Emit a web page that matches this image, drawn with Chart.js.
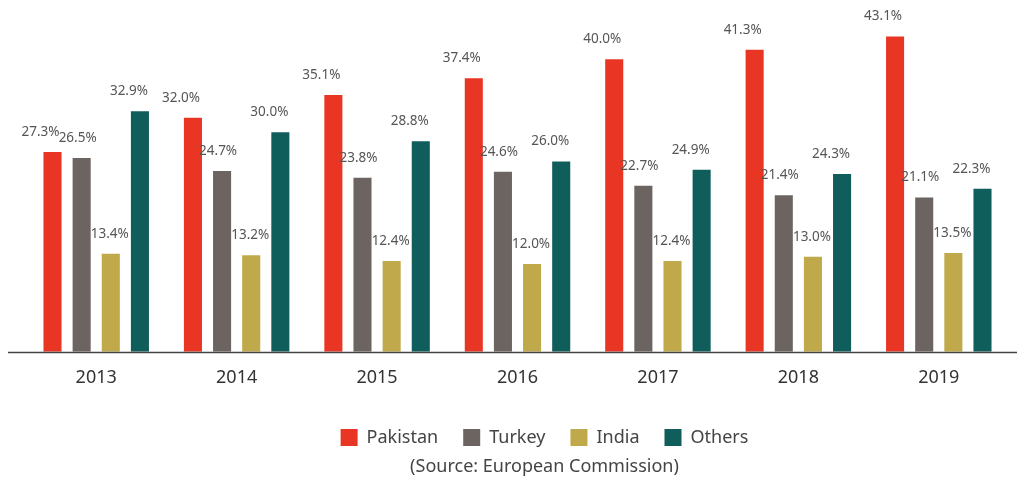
<!DOCTYPE html>
<html>
<head>
<meta charset="utf-8">
<script src="https://cdn.jsdelivr.net/npm/chart.js@4"></script>
<style>
  html, body { margin: 0; padding: 0; background: #fff; }
  #wrap { width: 1017px; height: 480px; }
</style>
</head>
<body>
<div id="wrap"><canvas id="shareChart"></canvas></div>
<script>
const years = ['2013', '2014', '2015', '2016', '2017', '2018', '2019'];
const pakistan = [27.3, 32.0, 35.1, 37.4, 40.0, 41.3, 43.1];
const turkey = [26.5, 24.7, 23.8, 24.6, 22.7, 21.4, 21.1];
const india = [13.4, 13.2, 12.4, 12.0, 12.4, 13.0, 13.5];
const others = [32.9, 30.0, 28.8, 26.0, 24.9, 24.3, 22.3];
const seriesNames = ['Pakistan', 'Turkey', 'India', 'Others'];
const sourceNote = '(Source: European Commission)';

const colors = ['#E83524', '#6B6461', '#BFA94B', '#0F5E5C'];
// labels in the original sit a little left of their bars
const labelShift = [-12, -4, -1, -11];
// legend and source line are centred a bit right of the bars
const footerShift = 27;

// value labels above each bar
const valueLabels = {
    id: 'valueLabels',
    afterDatasetsDraw(chart) {
        const ctx = chart.ctx;
        ctx.save();
        ctx.font = '13.5px "Noto Sans"';
        ctx.fillStyle = '#555';
        ctx.textAlign = 'center';
        ctx.textBaseline = 'middle';
        chart.data.datasets.forEach((ds, i) => {
            chart.getDatasetMeta(i).data.forEach((bar, j) => {
                ctx.fillText(ds.data[j].toFixed(1) + '%', bar.x + labelShift[i], bar.y - 20);
            });
        });
        ctx.restore();
    }
};

// baseline runs the full width, past the bar area
const baseLine = {
    id: 'baseLine',
    afterDatasetsDraw(chart) {
        const ctx = chart.ctx;
        const y = Math.round(chart.scales.y.getPixelForValue(0)) + 0.5;
        ctx.save();
        ctx.strokeStyle = '#444';
        ctx.lineWidth = 1.5;
        ctx.beginPath();
        ctx.moveTo(8, y);
        ctx.lineTo(1017, y);
        ctx.stroke();
        ctx.restore();
    }
};

// nudge legend + subtitle boxes sideways after layout
const footerNudge = {
    id: 'footerNudge',
    afterLayout(chart) {
        chart.boxes.forEach(box => {
            const isSub = box.options && box.options.text === sourceNote;
            if (box === chart.legend || isSub) {
                box.left += footerShift;
                box.right += footerShift;
            }
        });
    }
};

const datasets = [pakistan, turkey, india, others].map((vals, i) => ({
    label: seriesNames[i],
    data: vals,
    backgroundColor: colors[i],
    borderWidth: 0,
    barPercentage: 0.62,
    categoryPercentage: 0.83
}));

new Chart(document.getElementById('shareChart'), {
    type: 'bar',
    data: { labels: years, datasets: datasets },
    options: {
        responsive: true,
        maintainAspectRatio: false,
        animation: false,
        layout: { padding: { left: 26, right: 8, top: 8, bottom: 2 } },
        plugins: {
            legend: {
                position: 'bottom',
                labels: {
                    boxWidth: 17,
                    boxHeight: 17,
                    padding: 25,
                    color: '#444',
                    font: { family: '"Noto Sans"', size: 18 }
                }
            },
            subtitle: {
                display: true,
                position: 'bottom',
                text: sourceNote,
                color: '#444',
                font: { family: '"Noto Sans"', size: 18, weight: 'normal' },
                padding: { top: 0, bottom: 0 }
            },
            tooltip: { enabled: false }
        },
        scales: {
            x: {
                grid: { display: false, drawTicks: false },
                border: { display: false },
                ticks: {
                    color: '#333',
                    padding: 15,
                    font: { family: '"Noto Sans"', size: 18 }
                }
            },
            y: {
                display: false,
                min: 0,
                max: 47
            }
        }
    },
    plugins: [valueLabels, baseLine, footerNudge]
});
</script>
</body>
</html>
